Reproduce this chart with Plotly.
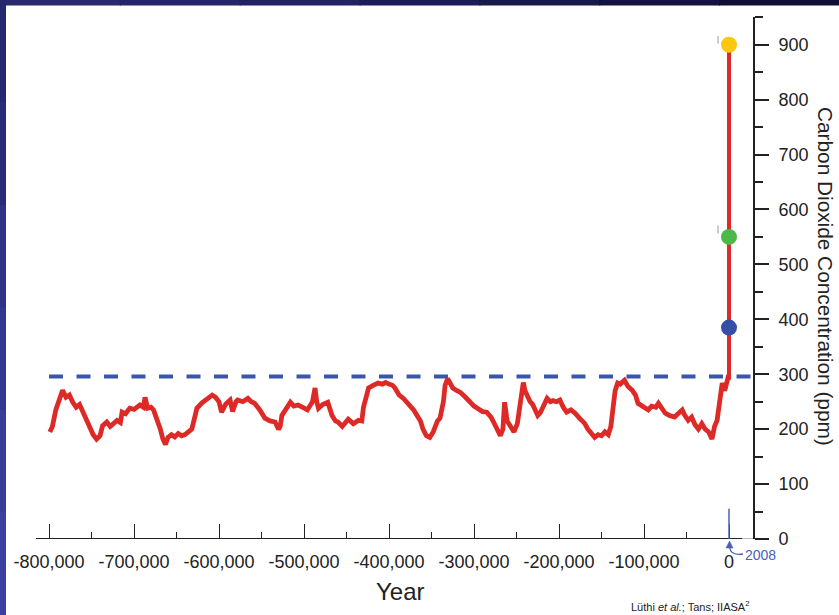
import plotly.graph_objects as go

# ---------------- data ----------------
years_k = [-799, -796, -792, -788, -784, -780, -776, -772, -768, -764, -760, -756, -752, -748, -744,
           -740, -737, -732, -728, -724, -720, -716, -714, -710, -705, -700, -693, -689, -687, -684,
           -680, -677, -673, -669, -666, -663, -660, -656, -652, -648, -644, -640, -636, -632, -628,
           -626, -620, -614, -608, -604, -600, -597, -592, -587, -584, -580, -578, -572, -566, -562,
           -558, -552, -546, -540, -534, -530, -528, -526, -520, -516, -512, -507, -502, -496, -490,
           -487, -485, -483, -478, -472, -467, -463, -460, -455, -448, -442, -436, -432, -430, -426,
           -424, -418, -413, -408, -404, -400, -396, -393, -388, -383, -379, -375, -371, -367, -363,
           -360, -356, -352, -348, -343, -340, -336, -334, -331, -328, -325, -320, -316, -310, -305,
           -300, -296, -290, -285, -280, -277, -273, -269, -266, -264, -261, -257, -253, -249, -245,
           -242, -240, -238, -234, -231, -228, -225, -222, -218, -214, -210, -207, -203, -199, -195,
           -191, -186, -181, -176, -170, -166, -162, -158, -154, -150, -146, -142, -139, -136, -134,
           -131, -128, -123, -119, -114, -110, -107, -101, -95, -91, -86, -83, -79, -75, -70,
           -64, -60, -55, -52, -48, -44, -40, -36, -32, -28, -24, -20, -17, -14, -11,
           -8, -5, -3, -1, 0]
co2_ppm = [195, 205, 235, 255, 271, 258, 262, 249, 240, 245, 231, 215, 205, 190, 182,
           188, 206, 213, 205, 210, 216, 212, 231, 228, 238, 236, 244, 240, 258, 238,
           240, 235, 220, 200, 182, 172, 185, 190, 186, 192, 188, 190, 195, 200, 225,
           238, 248, 256, 262, 258, 250, 231, 246, 253, 232, 250, 253, 250, 256, 250,
           247, 235, 220, 215, 213, 200, 205, 225, 240, 249, 242, 244, 240, 235, 250,
           275, 250, 238, 245, 249, 225, 215, 213, 205, 218, 210, 216, 215, 240, 268,
           275, 280, 284, 282, 285, 282, 280, 275, 262, 256, 250, 244, 235, 225, 215,
           200, 188, 185, 195, 215, 220, 250, 280, 292, 282, 275, 270, 267, 258, 249,
           242, 238, 232, 231, 222, 213, 198, 188, 200, 249, 215, 205, 195, 210, 250,
           285, 270, 262, 250, 245, 235, 225, 230, 245, 256, 250, 252, 250, 253, 240,
           231, 235, 229, 220, 211, 200, 192, 185, 190, 188, 195, 190, 205, 250, 270,
           284, 282, 289, 278, 271, 262, 247, 240, 235, 242, 240, 247, 236, 229, 225,
           222, 228, 235, 225, 216, 222, 208, 200, 210, 200, 195, 182, 205, 216, 250,
           284, 270, 285, 295, 295]
years = [k * 1000 for k in years_k]

modern_years = [0, 0]
modern_ppm = [290, 900]

scenario_ppm = [385, 550, 900]
scenario_colors = ["#3450a6", "#4db848", "#f9c80e"]

preindustrial_ppm = 296
dash_years = [-800000, 28000]

x_tickvals = [-800000, -700000, -600000, -500000, -400000, -300000, -200000, -100000, 0]
x_ticktext = ["-800,000", "-700,000", "-600,000", "-500,000", "-400,000",
              "-300,000", "-200,000", "-100,000", "0"]
y_tickvals = [0, 100, 200, 300, 400, 500, 600, 700, 800, 900]

# ---------------- layout helpers (pixel geometry) ----------------
W, H = 839, 615
L, R, T, B = 36, 86, 17, 76
PW, PH = W - L - R, H - T - B


def pxx(px):
    return (px - L) / PW


def pxy(py):
    return (H - B - py) / PH


FONT = "Liberation Sans, Arial, sans-serif"
BLUE_TXT = "#4a5fb5"

fig = go.Figure()

# pre-industrial dashed line
fig.add_trace(go.Scatter(x=dash_years, y=[preindustrial_ppm] * 2, mode="lines",
                         line=dict(color="#3a56aa", width=4, dash="14px,13.5px"),
                         hoverinfo="skip", showlegend=False))
# ice-core record
fig.add_trace(go.Scatter(x=years, y=co2_ppm, mode="lines",
                         line=dict(color="#de2a26", width=4.8),
                         showlegend=False))
# modern rise
fig.add_trace(go.Scatter(x=modern_years, y=modern_ppm, mode="lines",
                         line=dict(color="#de2a26", width=4),
                         showlegend=False))
# scenario dots
fig.add_trace(go.Scatter(x=[0] * len(scenario_ppm), y=scenario_ppm, mode="markers",
                         marker=dict(color=scenario_colors, size=16, line=dict(width=0)),
                         showlegend=False))

shapes = []
# frame (dark blue border, approximated gradient)
top_cols = ["#28296f", "#25266a", "#212262", "#1c1d58", "#17184c", "#121340", "#0e0f36"]
seg = W / len(top_cols)
for i, c in enumerate(top_cols):
    shapes.append(dict(type="rect", xref="paper", yref="paper",
                       x0=pxx(i * seg), x1=pxx((i + 1) * seg + 1), y0=pxy(5.5), y1=pxy(0),
                       fillcolor=c, line=dict(width=0), layer="above"))
left_cols = ["#26276d", "#2a2c78", "#2f3283", "#34378e", "#383c97", "#3b40a0"]
seg = H / len(left_cols)
for i, c in enumerate(left_cols):
    shapes.append(dict(type="rect", xref="paper", yref="paper",
                       x0=pxx(0), x1=pxx(6), y0=pxy((i + 1) * seg + 1), y1=pxy(i * seg),
                       fillcolor=c, line=dict(width=0), layer="above"))
# x axis line
shapes.append(dict(type="line", xref="paper", yref="y", x0=pxx(36), x1=pxx(742), y0=0, y1=0,
                   line=dict(color="#222222", width=2)))
shapes.append(dict(type="line", xref="paper", yref="y", x0=pxx(742), x1=pxx(753), y0=0, y1=0,
                   line=dict(color="#bbbbbb", width=2)))
# 2008 marker
shapes.append(dict(type="line", xref="x", yref="y", x0=0, x1=0, y0=0, y1=55,
                   line=dict(color=BLUE_TXT, width=1.5)))
# curved arrow from the "2008" label, with a small head pointing up
shapes.append(dict(type="path", xref="paper", yref="paper",
                   path=f"M {pxx(743)} {pxy(554)} Q {pxx(730)} {pxy(556)} {pxx(729.5)} {pxy(546)}",
                   line=dict(color=BLUE_TXT, width=1.3)))
shapes.append(dict(type="path", xref="paper", yref="paper",
                   path=(f"M {pxx(726)} {pxy(548)} L {pxx(729.5)} {pxy(541)} "
                         f"L {pxx(733)} {pxy(548)} Z"),
                   fillcolor=BLUE_TXT, line=dict(color=BLUE_TXT, width=0.5)))
# small grey guide ticks left of the dots
for yy in [(902, 916), (556, 571)]:
    shapes.append(dict(type="line", xref="paper", yref="y", x0=pxx(718), x1=pxx(718),
                       y0=yy[0], y1=yy[1], line=dict(color="#999999", width=1)))

annotations = [
    dict(text="Carbon Dioxide Concentration (ppm)", xref="paper", yref="paper",
         x=pxx(826), y=pxy(276), xanchor="center", yanchor="middle",
         textangle=90, showarrow=False,
         font=dict(family=FONT, size=20.8, color="#222222")),
    dict(text="Year", xref="paper", yref="paper", x=pxx(400), y=pxy(591),
         xanchor="center", yanchor="middle", showarrow=False,
         font=dict(family=FONT, size=24, color="#222222")),
    dict(text="2008", xref="paper", yref="paper", x=pxx(760), y=pxy(555),
         xanchor="center", yanchor="middle", showarrow=False,
         font=dict(family=FONT, size=14, color=BLUE_TXT)),
    dict(text="Lüthi <i>et al.</i>; Tans; IIASA<sup>2</sup>", xref="paper", yref="paper",
         x=pxx(690), y=pxy(606), xanchor="center", yanchor="middle", showarrow=False,
         font=dict(family=FONT, size=11, color="#222222")),
]

fig.update_layout(
    width=W, height=H,
    margin=dict(l=L, r=R, t=T, b=B, pad=0),
    paper_bgcolor="white", plot_bgcolor="white",
    font=dict(family=FONT, color="#222222"),
    shapes=shapes, annotations=annotations,
    xaxis=dict(range=[(36 - 729) / 0.00085, (753 - 729) / 0.00085],
               tickvals=x_tickvals, ticktext=x_ticktext,
               ticks="inside", ticklen=15, tickwidth=1.3, tickcolor="#222222",
               minor=dict(dtick=50000, tick0=0, ticks="inside", ticklen=7, tickwidth=1.3,
                          tickcolor="#222222", showgrid=False),
               showline=False, showgrid=False, zeroline=False,
               tickfont=dict(size=18, color="#222222"), ticklabelstandoff=10),
    yaxis=dict(range=[0, 950.5], side="right", tickvals=y_tickvals,
               ticks="outside", ticklen=14, tickwidth=1.5, tickcolor="#222222",
               minor=dict(dtick=50, tick0=0, ticks="outside", ticklen=8, tickwidth=1.5,
                          tickcolor="#222222", showgrid=False),
               showline=True, linewidth=2, linecolor="#222222",
               showgrid=False, zeroline=False,
               tickfont=dict(size=18, color="#222222"), ticklabelstandoff=6),
)

fig.write_html("out.html", config={"displayModeBar": False},
               post_script="document.body.style.margin='0';document.body.style.padding='0';")
